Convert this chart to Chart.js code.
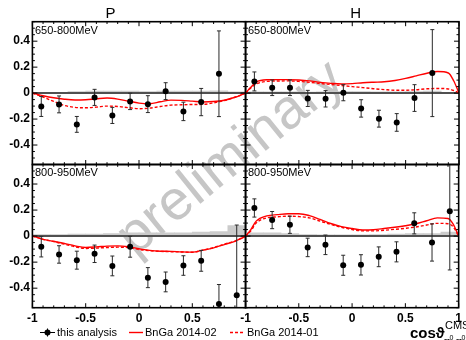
<!DOCTYPE html>
<html>
<head>
<meta charset="utf-8">
<script src="https://cdn.jsdelivr.net/npm/chart.js@4/dist/chart.umd.min.js"></script>
<style>
  html, body { margin: 0; padding: 0; background: #fff; width: 466px; height: 340px; overflow: hidden; }
  #wrap { position: relative; width: 466px; height: 340px; }
  #wrap canvas { position: absolute; left: 0; top: 0; }
  #wm {
    position: absolute; left: 229px; top: 156px;
    transform: translate(-50%, -50%) rotate(-39deg);
    font: 56px "Liberation Sans", Arial, sans-serif;
    color: #c6c6c6; white-space: nowrap; line-height: 1;
  }
</style>
</head>
<body>
<div id="wrap">
  <div id="wm">preliminary</div>
  <canvas id="pLow" width="466" height="340"></canvas>
  <canvas id="hLow" width="466" height="340"></canvas>
  <canvas id="pHigh" width="466" height="340"></canvas>
  <canvas id="hHigh" width="466" height="340"></canvas>
</div>
<script>
// ---- data ----------------------------------------------------------------
// cos(theta) bin centres (12 bins of width 1/6)
const binCenters = [-0.9167, -0.75, -0.5833, -0.4167, -0.25, -0.0833, 0.0833, 0.25, 0.4167, 0.5833, 0.75, 0.9167];

// P, 650-800 MeV
const pLowVal = [-0.103, -0.087, -0.241, -0.033, -0.172, -0.064, -0.085, 0.015, -0.141, -0.069, 0.149, null];
const pLowErr = [0.077, 0.065, 0.061, 0.062, 0.062, 0.063, 0.065, 0.065, 0.071, 0.105, 0.33, null];
const pLowSys = [0.004, 0.005, 0.012, 0.015, 0.015, 0.015, 0.012, 0.015, 0.015, 0.015, 0.018, 0.01];
// H, 650-800 MeV
const hLowVal = [0.09, 0.041, 0.041, -0.041, -0.044, 0.003, -0.118, -0.197, -0.226, -0.038, 0.154, null];
const hLowErr = [0.073, 0.06, 0.06, 0.062, 0.063, 0.062, 0.067, 0.065, 0.068, 0.103, 0.335, null];
const hLowSys = [0.01, 0.01, 0.01, 0.008, 0.01, 0.012, 0.012, 0.01, 0.01, 0.012, 0.015, 0.005];
// P, 800-950 MeV
const pHighVal = [-0.082, -0.141, -0.185, -0.136, -0.229, -0.082, -0.319, -0.352, -0.226, -0.19, -0.522, -0.455];
const pHighErr = [0.078, 0.067, 0.069, 0.067, 0.076, 0.08, 0.077, 0.076, 0.075, 0.08, 0.15, 0.54];
const pHighSys = [0.012, 0.012, 0.015, 0.015, 0.02, 0.025, 0.025, 0.025, 0.025, 0.03, 0.035, 0.08];
// H, 800-950 MeV
const hHighVal = [0.216, 0.123, 0.087, -0.087, -0.067, -0.224, -0.221, -0.159, -0.121, 0.098, -0.049, 0.19];
const hHighErr = [0.07, 0.066, 0.066, 0.071, 0.075, 0.077, 0.078, 0.076, 0.077, 0.081, 0.143, 0.45];
const hHighSys = [0.025, 0.025, 0.02, 0.012, 0.01, 0.01, 0.01, 0.012, 0.015, 0.02, 0.02, 0.03];

// BnGa model curves sampled in cos(theta)
const curveX = [-1, -0.95, -0.9, -0.8, -0.7, -0.6, -0.5, -0.4, -0.3, -0.2, -0.1, 0, 0.1, 0.2, 0.3, 0.4, 0.5, 0.6, 0.7, 0.8, 0.9, 0.95, 1];
const pLowBnGa02 = [0, -0.01, -0.02, -0.036, -0.047, -0.053, -0.051, -0.044, -0.038, -0.046, -0.062, -0.077, -0.082, -0.067, -0.054, -0.056, -0.062, -0.068, -0.065, -0.055, -0.032, -0.017, 0];
const pLowBnGa01 = [0, -0.015, -0.03, -0.064, -0.095, -0.11, -0.113, -0.108, -0.1, -0.103, -0.112, -0.12, -0.116, -0.103, -0.093, -0.09, -0.088, -0.087, -0.075, -0.057, -0.032, -0.017, 0];
const hLowBnGa02 = [0, 0.045, 0.085, 0.103, 0.104, 0.104, 0.101, 0.094, 0.083, 0.075, 0.07, 0.073, 0.08, 0.084, 0.087, 0.097, 0.113, 0.133, 0.153, 0.166, 0.155, 0.095, 0];
const hLowBnGa01 = [0, 0.04, 0.07, 0.09, 0.093, 0.094, 0.09, 0.083, 0.074, 0.066, 0.058, 0.05, 0.042, 0.034, 0.027, 0.022, 0.022, 0.026, 0.033, 0.036, 0.032, 0.02, 0];
const pHighBnGa02 = [0, -0.012, -0.025, -0.04, -0.057, -0.075, -0.087, -0.083, -0.077, -0.075, -0.082, -0.097, -0.11, -0.116, -0.117, -0.121, -0.123, -0.108, -0.09, -0.065, -0.04, -0.022, 0];
const pHighBnGa01 = [0, -0.012, -0.025, -0.042, -0.062, -0.082, -0.095, -0.092, -0.088, -0.085, -0.088, -0.103, -0.112, -0.117, -0.12, -0.122, -0.124, -0.108, -0.088, -0.062, -0.038, -0.02, 0];
const hHighBnGa02 = [0, 0.05, 0.115, 0.155, 0.165, 0.172, 0.172, 0.157, 0.128, 0.097, 0.073, 0.058, 0.047, 0.049, 0.058, 0.068, 0.08, 0.095, 0.118, 0.14, 0.135, 0.09, 0];
const hHighBnGa01 = [0, 0.04, 0.1, 0.14, 0.148, 0.153, 0.15, 0.14, 0.115, 0.09, 0.068, 0.05, 0.04, 0.04, 0.045, 0.052, 0.06, 0.07, 0.085, 0.098, 0.095, 0.07, 0];

// axis ticks
const yTickValues = [-0.4, -0.2, 0, 0.2, 0.4];
const xTickValuesLeft = [-1, -0.5, 0, 0.5];
const xTickValuesRight = [-1, -0.5, 0, 0.5, 1];

// ---- drawing -------------------------------------------------------------
const FONT = '"Liberation Sans", Arial, Helvetica, sans-serif';
Chart.defaults.font.family = FONT;

const fmt = v => (Math.abs(v) < 1e-9 ? '0' : String(Math.round(v * 100) / 100));

function seg(ctx, x1, y1, x2, y2) {
  ctx.beginPath(); ctx.moveTo(x1, y1); ctx.lineTo(x2, y2); ctx.stroke();
}

// frame with inward ticks on all four sides
const framePlugin = {
  id: 'frame',
  afterDatasetsDraw(chart) {
    const { ctx, chartArea: a, scales: { x, y } } = chart;
    ctx.save();
    ctx.strokeStyle = '#000';
    ctx.lineWidth = 1;
    for (let i = -10; i <= 10; i++) {
      const px = x.getPixelForValue(i / 10);
      const len = i % 5 === 0 ? 4.5 : 2.3;
      seg(ctx, px, a.bottom, px, a.bottom - len);
      seg(ctx, px, a.top, px, a.top + len);
    }
    for (let i = -11; i <= 11; i++) {
      const py = y.getPixelForValue(i * 0.05);
      const len = i % 4 === 0 ? 5 : 2.5;
      seg(ctx, a.left, py, a.left + len, py);
      seg(ctx, a.right, py, a.right - len, py);
    }
    ctx.lineWidth = 1.6;
    ctx.strokeRect(a.left, a.top, a.right - a.left, a.bottom - a.top);
    const lbl = chart.options.plugins.frame.label;
    ctx.fillStyle = '#000';
    ctx.font = '11px ' + FONT;
    ctx.textAlign = 'left';
    ctx.textBaseline = 'alphabetic';
    ctx.fillText(lbl, a.left + 2.5, a.top + 11.8);
    ctx.restore();
  }
};

// vertical error bars with small caps, drawn just below the markers
const errorBarPlugin = {
  id: 'errorBars',
  beforeDatasetDraw(chart, args) {
    const ds = chart.data.datasets[args.index];
    if (!ds.errors) return;
    const { ctx, chartArea: a, scales: { x, y } } = chart;
    ctx.save();
    ctx.beginPath();
    ctx.rect(a.left, a.top, a.right - a.left, a.bottom - a.top);
    ctx.clip();
    ctx.strokeStyle = '#2a2a2a';
    ctx.lineWidth = 1;
    ds.data.forEach((p, i) => {
      const e = ds.errors[i];
      const px = x.getPixelForValue(p.x);
      const yTop = y.getPixelForValue(p.y + e);
      const yBot = y.getPixelForValue(p.y - e);
      seg(ctx, px, yTop, px, yBot);
      seg(ctx, px - 2, yTop, px + 2, yTop);
      seg(ctx, px - 2, yBot, px + 2, yBot);
    });
    ctx.restore();
  }
};

// titles, legend and axis title
const decorPlugin = {
  id: 'decor',
  afterDraw(chart) {
    const ctx = chart.ctx;
    ctx.save();
    ctx.fillStyle = '#000';
    ctx.textBaseline = 'alphabetic';
    ctx.font = '15px ' + FONT;
    ctx.textAlign = 'center';
    ctx.fillText('P', 110.5, 18.3);
    ctx.fillText('H', 355.7, 18.3);

    ctx.textAlign = 'left';
    ctx.font = '11px ' + FONT;
    const ly = 332.5;
    // this analysis
    ctx.strokeStyle = '#000'; ctx.lineWidth = 1;
    seg(ctx, 40, ly, 55, ly);
    seg(ctx, 47.5, ly - 4, 47.5, ly + 4);
    ctx.beginPath(); ctx.arc(47.5, ly, 3, 0, Math.PI * 2); ctx.fill();
    ctx.fillText('this analysis', 57, 336);
    // BnGa 2014-02
    ctx.strokeStyle = '#ff0000'; ctx.lineWidth = 1.4;
    seg(ctx, 129, ly, 143, ly);
    ctx.fillText('BnGa 2014-02', 145, 336);
    // BnGa 2014-01
    ctx.setLineDash([3, 2]);
    seg(ctx, 230, ly, 245, ly);
    ctx.setLineDash([]);
    ctx.fillText('BnGa 2014-01', 247, 336);

    // axis title
    ctx.font = 'bold 15px ' + FONT;
    ctx.fillText('cos\u03D1', 410, 338);
    ctx.font = '11px ' + FONT;
    ctx.fillText('CMS', 445, 329);
    ctx.font = '9px ' + FONT;
    ctx.fillText('\u03C0', 444, 344);
    ctx.fillText('\u03C0', 456, 344);
    ctx.font = '7px ' + FONT;
    ctx.fillText('0', 449.5, 340);
    ctx.fillText('0', 461.5, 340);
    ctx.restore();
  }
};

function toPoints(xs, ys) {
  const out = [];
  xs.forEach((xv, i) => { if (ys[i] !== null) out.push({ x: xv, y: ys[i] }); });
  return out;
}
function toErrors(ys, es) {
  return es.filter((e, i) => ys[i] !== null);
}

function makePanel(id, cfg) {
  const area = cfg.area;
  return new Chart(document.getElementById(id), {
    type: 'scatter',
    data: {
      datasets: [
        {
          type: 'scatter', label: 'this analysis',
          data: toPoints(binCenters, cfg.vals), errors: toErrors(cfg.vals, cfg.errs),
          pointRadius: 3, pointBackgroundColor: '#000', pointBorderWidth: 0, order: 0
        },
        {
          type: 'line', label: 'BnGa 2014-02', data: toPoints(curveX, cfg.bnga02),
          borderColor: '#ff0000', borderWidth: 1.4, pointRadius: 0,
          cubicInterpolationMode: 'monotone', order: 1
        },
        {
          type: 'line', label: 'BnGa 2014-01', data: toPoints(curveX, cfg.bnga01),
          borderColor: '#ff0000', borderWidth: 1.4, borderDash: [3, 2], pointRadius: 0,
          cubicInterpolationMode: 'monotone', order: 1
        },
        {
          type: 'line', label: 'zero', data: [{ x: -1, y: 0 }, { x: 1, y: 0 }],
          borderColor: '#505050', borderWidth: 2, pointRadius: 0, order: 2
        },
        {
          type: 'bar', label: 'systematic', data: toPoints(binCenters, cfg.sys),
          backgroundColor: '#cbcbcb', borderWidth: 0, barPercentage: 1, categoryPercentage: 1,
          grouped: false, order: 3
        }
      ]
    },
    options: {
      responsive: false, animation: false, devicePixelRatio: 1,
      events: [],
      layout: {
        padding: { left: 0, right: 466 - area.right, top: area.top, bottom: 0 }
      },
      plugins: {
        legend: { display: false }, tooltip: { enabled: false },
        frame: { label: cfg.label }
      },
      scales: {
        x: {
          type: 'linear', min: -1, max: 1, offset: false,
          grid: { display: false, drawTicks: false }, border: { display: false },
          afterBuildTicks: s => { s.ticks = cfg.xTicks.map(v => ({ value: v })); },
          afterFit: s => { s.height = 340 - area.bottom; },
          ticks: {
            display: cfg.showX,
            color: '#000', font: { size: 12, weight: 'bold' }, padding: 4,
            maxRotation: 0, autoSkip: false, callback: v => fmt(v)
          }
        },
        y: {
          type: 'linear', min: -0.55, max: 0.55,
          grid: { display: false, drawTicks: false }, border: { display: false },
          afterBuildTicks: s => { s.ticks = yTickValues.map(v => ({ value: v })); },
          afterFit: s => { s.width = area.left; },
          ticks: {
            display: cfg.showY,
            color: '#000', font: { size: 12, weight: 'bold' }, padding: 2.5,
            autoSkip: false, callback: v => fmt(v)
          }
        }
      }
    },
    plugins: cfg.decor ? [errorBarPlugin, framePlugin, decorPlugin] : [errorBarPlugin, framePlugin]
  });
}

const leftX = [32.4, 245.6];
const rightX = [245.5, 459];
const topY = [21.7, 164.5];
const botY = [164.5, 307.7];

makePanel('pLow', {
  area: { left: leftX[0], right: leftX[1], top: topY[0], bottom: topY[1] },
  showX: false, showY: true, xTicks: xTickValuesLeft, label: '650-800MeV',
  vals: pLowVal, errs: pLowErr, sys: pLowSys, bnga02: pLowBnGa02, bnga01: pLowBnGa01
});
makePanel('hLow', {
  area: { left: rightX[0], right: rightX[1], top: topY[0], bottom: topY[1] },
  showX: false, showY: false, xTicks: xTickValuesRight, label: '650-800MeV',
  vals: hLowVal, errs: hLowErr, sys: hLowSys, bnga02: hLowBnGa02, bnga01: hLowBnGa01
});
makePanel('pHigh', {
  area: { left: leftX[0], right: leftX[1], top: botY[0], bottom: botY[1] },
  showX: true, showY: true, xTicks: xTickValuesLeft, label: '800-950MeV',
  vals: pHighVal, errs: pHighErr, sys: pHighSys, bnga02: pHighBnGa02, bnga01: pHighBnGa01
});
makePanel('hHigh', {
  area: { left: rightX[0], right: rightX[1], top: botY[0], bottom: botY[1] },
  showX: true, showY: false, xTicks: xTickValuesRight, label: '800-950MeV',
  vals: hHighVal, errs: hHighErr, sys: hHighSys, bnga02: hHighBnGa02, bnga01: hHighBnGa01,
  decor: true
});
</script>
</body>
</html>
